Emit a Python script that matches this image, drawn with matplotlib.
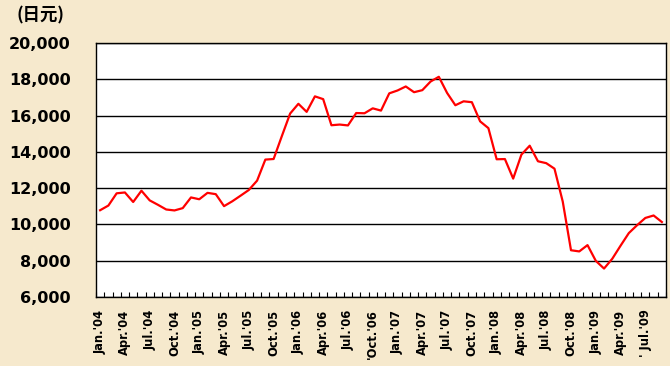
import numpy as np
import matplotlib.pyplot as plt
from matplotlib.ticker import FuncFormatter

# monthly close, Jan 2004 .. Sep 2009 (yen)
values = [10783, 11041, 11715, 11762, 11236, 11858, 11325, 11081, 10823, 10771, 10899, 11488,
          11387, 11740, 11668, 11008, 11276, 11584, 11899, 12413, 13574, 13606, 14872, 16111,
          16649, 16205, 17059, 16906, 15467, 15505, 15457, 16140, 16127, 16399, 16274, 17225,
          17383, 17604, 17288, 17400, 17876, 18138, 17248, 16569, 16786, 16737, 15680, 15308,
          13592, 13603, 12526, 13850, 14339, 13481, 13377, 13073, 11260, 8577, 8512, 8860,
          7994, 7568, 8110, 8828, 9523, 9958, 10357, 10493, 10133]
xlabels = ["Jan.'04", "Apr.'04", "Jul.'04", "Oct.'04",
           "Jan.'05", "Apr.'05", "Jul.'05", "Oct.'05",
           "Jan.'06", "Apr.'06", "Jul.'06", "'Oct.'06",
           "Jan.'07", "Apr.'07", "Jul.'07", "Oct.'07",
           "Jan.'08", "Apr.'08", "Jul.'08", "Oct.'08",
           "Jan.'09", "Apr.'09", "' Jul.'09"]
yticks = [6000, 8000, 10000, 12000, 14000, 16000, 18000, 20000]
unit = "(日元)"

bg = '#f6e9cd'
fig = plt.figure(figsize=(6.7, 3.66), dpi=100, facecolor=bg)
ax = fig.add_axes([96/670, 69/366, 570/670, 254/366])
ax.set_facecolor('white')

x = np.arange(len(values))
ax.plot(x, values, color='#ff0000', lw=1.6, zorder=3)

ax.set_xlim(-0.5, len(values) - 0.5)
ax.set_ylim(yticks[0], yticks[-1])
ax.set_yticks(yticks)
ax.yaxis.set_major_formatter(FuncFormatter(lambda v, p: f'{int(v):,}'))
ax.grid(axis='y', color='black', lw=1)
ax.set_axisbelow(True)
for s in ax.spines.values():
    s.set_color('black')
    s.set_linewidth(1)

ax.tick_params(axis='y', length=0, pad=18)
for lab in ax.get_yticklabels():
    lab.set_fontsize(11.5)
    lab.set_fontweight('bold')

ax.set_xticks(np.arange(0, len(values), 3))
ax.set_xticklabels(xlabels, rotation=90, fontsize=8.3, fontweight='bold')
ax.set_xticks(np.arange(-0.5, len(values), 1), minor=True)
ax.tick_params(axis='x', which='major', length=0, pad=9)
ax.tick_params(axis='x', which='minor', length=3.5, direction='in', color='black', width=0.8)

fig.text(17/670, 1 - 15/366, unit, fontsize=12.5, fontweight='bold',
         family=['Noto Sans CJK SC', 'DejaVu Sans'], va='center', ha='left')

fig.savefig('out.png', dpi=100, facecolor=bg)
